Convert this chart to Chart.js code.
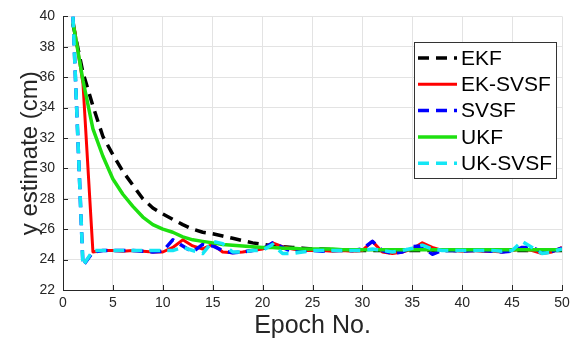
<!DOCTYPE html>
<html>
<head>
<meta charset="utf-8">
<script src="https://cdn.jsdelivr.net/npm/chart.js@4.4.1/dist/chart.umd.min.js"></script>
<style>
  html, body { margin: 0; padding: 0; background: #ffffff; }
  canvas { display: block; }
</style>
</head>
<body>
<canvas id="chart" width="575" height="350"></canvas>
<script>
// Epoch numbers (x axis)
const epochs = [1, 2, 3, 4, 5, 6, 7, 8, 9, 10, 11, 12, 13, 14, 15, 16, 17, 18, 19, 20,
  21, 22, 23, 24, 25, 26, 27, 28, 29, 30, 31, 32, 33, 34, 35, 36, 37, 38, 39, 40,
  41, 42, 43, 44, 45, 46, 47, 48, 49, 50];

// y estimate (cm) per filter
const ekf = [39.5, 36.3, 34.1, 32.1, 30.9, 29.8, 28.9, 28.0, 27.4, 27.0,
  26.65, 26.3, 26.0, 25.8, 25.7, 25.55, 25.4, 25.25, 25.1, 25.0,
  24.9, 24.85, 24.8, 24.75, 24.7, 24.7, 24.65, 24.65, 24.6, 24.6,
  24.6, 24.6, 24.6, 24.6, 24.6, 24.6, 24.6, 24.6, 24.6, 24.6,
  24.6, 24.6, 24.6, 24.6, 24.6, 24.6, 24.6, 24.6, 24.6, 24.6];
const ekSvsf = [39.8, 35.6, 24.5, 24.6, 24.6, 24.55, 24.6, 24.55, 24.5, 24.5,
  24.8, 25.3, 24.9, 24.7, 25.0, 24.5, 24.45, 24.5, 24.6, 24.7,
  25.1, 24.85, 24.7, 24.6, 24.6, 24.6, 24.55, 24.6, 24.55, 24.6,
  25.2, 24.5, 24.4, 24.5, 24.7, 25.1, 24.8, 24.6, 24.6, 24.55,
  24.6, 24.55, 24.55, 24.5, 24.6, 24.7, 24.6, 24.4, 24.5, 24.8];
const svsf = [40, 23.6, 24.5, 24.6, 24.6, 24.6, 24.6, 24.55, 24.5, 24.55,
  25.3, 24.9, 24.5, 25.0, 24.9, 24.6, 24.45, 24.5, 24.6, 24.7,
  25.1, 24.8, 24.5, 24.6, 24.6, 24.55, 24.6, 24.6, 24.6, 24.7,
  25.2, 24.6, 24.4, 24.5, 24.85, 24.9, 24.35, 24.6, 24.6, 24.55,
  24.6, 24.6, 24.55, 24.5, 24.55, 24.8, 24.8, 24.5, 24.55, 24.75];
const ukf = [39.6, 35.8, 32.6, 30.8, 29.3, 28.3, 27.5, 26.8, 26.3, 26.0,
  25.8, 25.5, 25.3, 25.2, 25.1, 25.0, 24.95, 24.9, 24.85, 24.8,
  24.8, 24.75, 24.75, 24.7, 24.7, 24.7, 24.7, 24.65, 24.65, 24.65,
  24.65, 24.65, 24.65, 24.65, 24.65, 24.65, 24.65, 24.65, 24.65, 24.65,
  24.65, 24.65, 24.65, 24.65, 24.65, 24.65, 24.65, 24.65, 24.65, 24.65];
const ukSvsf = [40, 23.6, 24.6, 24.6, 24.6, 24.6, 24.6, 24.6, 24.6, 24.6,
  24.6, 24.8, 24.6, 24.4, 25.2, 25.05, 24.5, 24.5, 24.6, 24.6,
  25.0, 24.4, 24.4, 24.5, 24.6, 24.6, 24.6, 24.6, 24.6, 24.6,
  24.7, 24.6, 24.5, 24.6, 24.75, 24.95, 24.7, 24.6, 24.6, 24.6,
  24.6, 24.6, 24.6, 24.55, 24.6, 25.2, 24.8, 24.4, 24.5, 24.7];

const xTicks = [0, 5, 10, 15, 20, 25, 30, 35, 40, 45, 50];
const yTicks = [22, 24, 26, 28, 30, 32, 34, 36, 38, 40];

const FONT = '"Liberation Sans", Arial, Helvetica, sans-serif';
const AXIS_COLOR = '#262626';

const toPoints = (values) => values.map((v, i) => ({ x: epochs[i], y: v }));

// Boxed legend in the upper right of the plot
const boxLegend = {
  id: 'boxLegend',
  afterDraw(chart) {
    const ctx = chart.ctx;
    const left = 414, top = 42, width = 142, height = 136;
    const rowH = 26.3;
    ctx.save();
    ctx.fillStyle = '#ffffff';
    ctx.fillRect(left, top, width, height);
    ctx.strokeStyle = '#333333';
    ctx.lineWidth = 1;
    ctx.strokeRect(left + 0.5, top + 0.5, width, height);
    chart.data.datasets.forEach((ds, i) => {
      const y = top + 16 + i * rowH;
      ctx.beginPath();
      ctx.strokeStyle = ds.borderColor;
      ctx.lineWidth = ds.borderWidth;
      ctx.setLineDash(ds.borderDash || []);
      ctx.moveTo(left + 4, y);
      ctx.lineTo(left + 43, y);
      ctx.stroke();
      ctx.setLineDash([]);
      ctx.fillStyle = '#000000';
      ctx.font = '21px ' + FONT;
      ctx.textBaseline = 'middle';
      ctx.fillText(ds.label, left + 47, y + 1);
    });
    ctx.restore();
  }
};

// Small inward tick marks like the original axes
const inwardTicks = {
  id: 'inwardTicks',
  afterDraw(chart) {
    const { ctx, chartArea, scales } = chart;
    ctx.save();
    ctx.strokeStyle = AXIS_COLOR;
    ctx.lineWidth = 1;
    xTicks.forEach(t => {
      const px = Math.round(scales.x.getPixelForValue(t)) + 0.5;
      ctx.beginPath();
      ctx.moveTo(px, chartArea.bottom);
      ctx.lineTo(px, chartArea.bottom - 5);
      ctx.stroke();
    });
    yTicks.forEach(t => {
      const py = Math.round(scales.y.getPixelForValue(t)) + 0.5;
      ctx.beginPath();
      ctx.moveTo(chartArea.left, py);
      ctx.lineTo(chartArea.left + 5, py);
      ctx.stroke();
    });
    ctx.restore();
  }
};

new Chart(document.getElementById('chart'), {
  type: 'line',
  data: {
    datasets: [
      { label: 'EKF', data: toPoints(ekf), borderColor: '#000000', borderWidth: 3.5, borderDash: [11, 7], order: 5 },
      { label: 'EK-SVSF', data: toPoints(ekSvsf), borderColor: '#ff0000', borderWidth: 3, order: 4 },
      { label: 'SVSF', data: toPoints(svsf), borderColor: '#0000ff', borderWidth: 3.5, borderDash: [11, 7], order: 3 },
      { label: 'UKF', data: toPoints(ukf), borderColor: '#1ee010', borderWidth: 3.5, order: 2 },
      { label: 'UK-SVSF', data: toPoints(ukSvsf), borderColor: '#14e6f5', borderWidth: 3.5, borderDash: [11, 7], order: 1 }
    ]
  },
  options: {
    responsive: false,
    animation: false,
    layout: { padding: { left: 0, right: 13, top: 12, bottom: 0 } },
    elements: {
      point: { radius: 0 },
      line: { tension: 0, fill: false, borderCapStyle: 'butt', borderJoinStyle: 'round' }
    },
    plugins: {
      legend: { display: false },
      tooltip: { enabled: false }
    },
    scales: {
      x: {
        type: 'linear',
        min: 0,
        max: 50,
        afterBuildTicks: (scale) => { scale.ticks = xTicks.map(v => ({ value: v })); },
        afterFit: (scale) => { scale.height = 60; },
        ticks: { color: AXIS_COLOR, font: { family: FONT, size: 14 }, padding: 5, maxRotation: 0 },
        grid: { color: '#e3e3e3', drawTicks: false },
        border: { color: AXIS_COLOR, width: 1 },
        title: { display: true, text: 'Epoch No.', color: AXIS_COLOR, font: { family: FONT, size: 25 }, padding: { top: 0, bottom: 9 } }
      },
      y: {
        min: 22,
        max: 40,
        afterBuildTicks: (scale) => { scale.ticks = yTicks.map(v => ({ value: v })); },
        afterFit: (scale) => { scale.width = 63; },
        ticks: { color: AXIS_COLOR, font: { family: FONT, size: 14 }, padding: 8 },
        grid: { color: '#e3e3e3', drawTicks: false },
        border: { color: AXIS_COLOR, width: 1 },
        title: { display: true, text: 'y estimate (cm)', color: AXIS_COLOR, font: { family: FONT, size: 24 }, padding: { top: 16, bottom: 0 } }
      }
    }
  },
  plugins: [boxLegend, inwardTicks]
});
</script>
</body>
</html>
